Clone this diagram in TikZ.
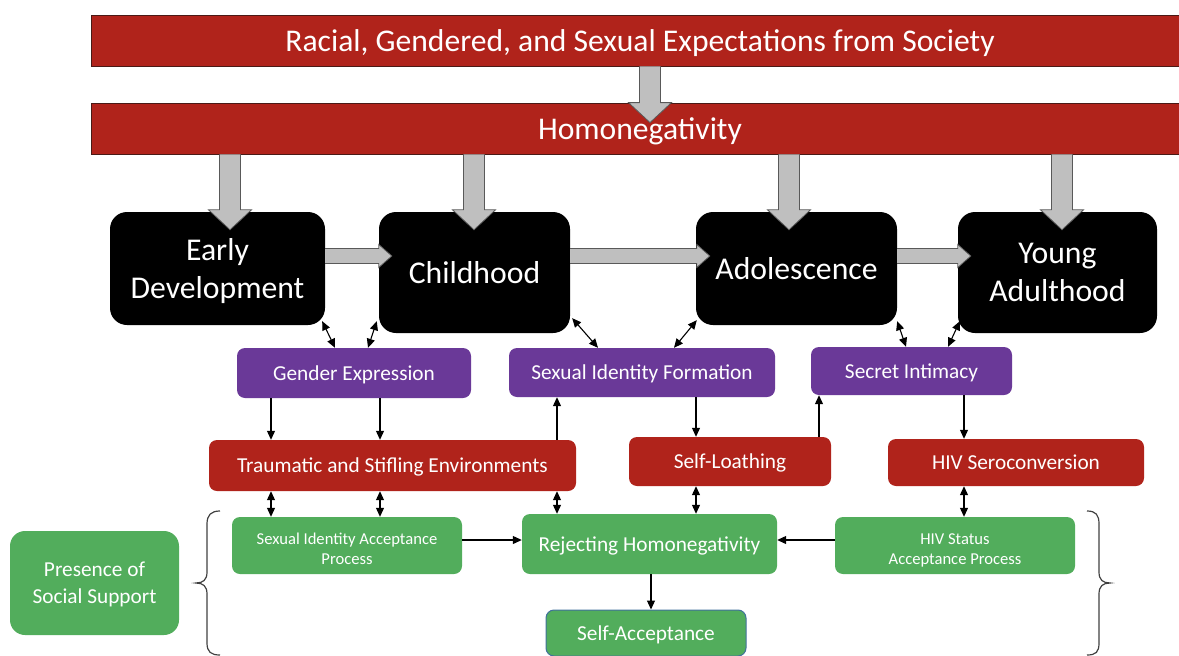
\documentclass[tikz,border=0pt]{standalone}
\usepackage{fontspec}
\setmainfont{Carlito}
\usetikzlibrary{arrows.meta,calc}
\definecolor{barred}{HTML}{B0231B}
\definecolor{barline}{HTML}{4A1A16}
\definecolor{purp}{HTML}{6A3998}
\definecolor{grn}{HTML}{52AD5C}
\definecolor{arrowfill}{HTML}{BFBFBF}
\definecolor{arrowline}{HTML}{595959}
\definecolor{saborder}{HTML}{41719C}
\definecolor{bracecol}{HTML}{404040}
\newcommand\blockdown[2]{%
  \path[blockarrow] let \p1=(#1), \p2=(#2) in
    (\x1-10.5pt,\y1) -- (\x1-10.5pt,\y2+20pt) -- (\x1-21.5pt,\y2+20pt) -- (\x1,\y2)
    -- (\x1+21.5pt,\y2+20pt) -- (\x1+10.5pt,\y2+20pt) -- (\x1+10.5pt,\y1);}
\newcommand\blockright[2]{%
  \path[blockarrow] let \p1=(#1), \p2=(#2) in
    (\x1,\y1+7.5pt) -- (\x2-13pt,\y1+7.5pt) -- (\x2-13pt,\y1+11.5pt) -- (\x2,\y1)
    -- (\x2-13pt,\y1-11.5pt) -- (\x2-13pt,\y1-7.5pt) -- (\x1,\y1-7.5pt);}
\newcommand\tallstrut{\rule{0pt}{18pt}}
\begin{document}
\begin{tikzpicture}[x=1pt,y=-1pt,
  every node/.style={inner sep=0pt, text=white, align=center, text depth=0pt},
  bar/.style={draw=barline, line width=0.8pt, fill=barred, minimum height=51pt,
    minimum width=1098pt, font=\fontsize{31.6}{37}\selectfont},
  stage/.style={fill=black, rounded corners=17pt, font=\fontsize{31.7}{38}\selectfont},
  pbox/.style={fill=purp, rounded corners=8pt, font=\fontsize{21.3}{25}\selectfont},
  rbox/.style={fill=barred, rounded corners=8pt, font=\fontsize{21.3}{25}\selectfont},
  gbox/.style={fill=grn, rounded corners=8pt, font=\fontsize{21.3}{25}\selectfont},
  gsmall/.style={gbox, font=\fontsize{16.6}{20}\selectfont},
  blockarrow/.style={fill=arrowfill, draw=arrowline, line width=0.8pt},
  arr/.style={-{Triangle[length=9pt,width=8pt]}, line width=1.1pt},
  darr/.style={{Triangle[length=9pt,width=8pt]}-{Triangle[length=9pt,width=8pt]}, line width=1.1pt},
  brace/.style={draw=bracecol, line width=1.2pt}
]
\useasboundingbox (0,0) rectangle (1179,656);
\clip (0,0) rectangle (1179,656);

% bars
\node[bar] (soc) at (640,40.5) {Racial, Gendered, and Sexual Expectations from Society};
\node[bar] (homo) at (640,128.5) {Homonegativity};

% stages
\node[stage, minimum width=215pt, minimum height=113pt] (ed) at (217.5,268.5) {Early\\Development};
\node[stage, minimum width=191pt, minimum height=121pt] (ch) at (474.5,272.5) {Childhood};
\node[stage, minimum width=201pt, minimum height=113pt] (ad) at (796.5,268.5) {Adolescence};
\node[stage, minimum width=199pt, minimum height=121pt] (ya) at (1057.5,272.5) {Young\\Adulthood};

% purple
\node[pbox, minimum width=234pt, minimum height=50pt] (ge) at (354,373) {Gender Expression};
\node[pbox, minimum width=266pt, minimum height=49pt] (sif) at (642,372.5) {Sexual Identity Formation};
\node[pbox, minimum width=201pt, minimum height=48pt] (si) at (911.5,371) {Secret Intimacy};

% red
\node[rbox, minimum width=367pt, minimum height=51pt] (tse) at (392.5,465.5) {Traumatic and Stifling Environments};
\node[rbox, minimum width=202pt, minimum height=49pt] (sl) at (730,461.5) {Self-Loathing};
\node[rbox, minimum width=256pt, minimum height=47pt] (hivs) at (1016,462.5) {HIV Seroconversion};

% green
\node[gsmall, minimum width=230pt, minimum height=57pt] (siap) at (347,545.5) {\tallstrut Sexual Identity Acceptance\\Process};
\node[gbox, minimum width=255pt, minimum height=60pt] (rh) at (649.5,544) {Rejecting Homonegativity};
\node[gsmall, minimum width=240pt, minimum height=57pt] (hsap) at (955,545.5) {\tallstrut HIV Status\\Acceptance Process};
\node[gbox, draw=saborder, line width=1pt, minimum width=200pt, minimum height=46pt] (sa) at (646,633) {Self-Acceptance};
\node[gbox, rounded corners=15pt, minimum width=169pt, minimum height=104pt, font=\fontsize{21.3}{27}\selectfont] (pss) at (94.5,583) {Presence of\\Social Support};

% block arrows
\blockdown{650,0 |- soc.south}{$(650,0 |- homo.north)+(0,20)$}
\blockdown{230,0 |- homo.south}{$(230,0 |- ed.north)+(0,18)$}
\blockdown{474,0 |- homo.south}{$(474,0 |- ch.north)+(0,18)$}
\blockdown{789,0 |- homo.south}{$(789,0 |- ad.north)+(0,18)$}
\blockdown{1062,0 |- homo.south}{$(1062,0 |- ya.north)+(0,18)$}
\blockright{ed.east |- 0,256}{$(ch.west |- 0,256)+(13,0)$}
\blockright{ch.east |- 0,256}{$(ad.west |- 0,256)+(14,0)$}
\blockright{ad.east |- 0,256}{$(ya.west |- 0,256)+(13,0)$}

% stage <-> purple
\draw[darr] ($(ed.south east)+(-3,-4)$) -- ($(ge.north)+(-19,0)$);
\draw[darr] ($(ch.south west)+(-2,-12)$) -- ($(ge.north)+(14,0)$);
\draw[darr] ($(ch.south east)+(2,-15)$) -- ($(sif.north)+(-44,0)$);
\draw[darr] ($(ad.south west)+(1,-5)$) -- ($(sif.north)+(32,0)$);
\draw[darr] ($(ad.south east)+(0,-4)$) -- ($(si.north)+(-5.5,0)$);
\draw[darr] ($(ya.south west)+(2,-12)$) -- ($(si.north)+(36.5,0)$);

% purple <-> red
\draw[arr] (271,0 |- ge.south) -- (271,0 |- tse.north);
\draw[arr] (380,0 |- ge.south) -- (380,0 |- tse.north);
\draw[arr] (557,0 |- tse.north) -- (557,0 |- sif.south);
\draw[arr] (696,0 |- sif.south) -- (696,0 |- sl.north);
\draw[arr] (819,0 |- sl.north) -- (819,0 |- si.south);
\draw[arr] (964,0 |- si.south) -- (964,0 |- hivs.north);

% red <-> green
\draw[darr] (271,0 |- tse.south) -- (271,0 |- siap.north);
\draw[darr] (380,0 |- tse.south) -- (380,0 |- siap.north);
\draw[darr] (557,0 |- tse.south) -- (557,0 |- rh.north);
\draw[darr] (696,0 |- sl.south) -- (696,0 |- rh.north);
\draw[darr] (964,0 |- hivs.south) -- (964,0 |- hsap.north);

% green row
\draw[arr] (siap.east |- 0,540) -- (rh.west |- 0,540);
\draw[arr] (hsap.west |- 0,540) -- (rh.east |- 0,540);
\draw[arr] (651,0 |- rh.south) -- (651,0 |- sa.north);

% braces
\draw[brace] (220,511) .. controls (211,511) and (207,515) .. (207,524) -- (207,572)
  .. controls (207,580) and (203,583) .. (196,583) .. controls (203,583) and (207,586) .. (207,594)
  -- (207,643) .. controls (207,652) and (211,655) .. (220,655);
\draw[brace] (1087,511) .. controls (1096,511) and (1099,515) .. (1099,524) -- (1099,572)
  .. controls (1099,580) and (1103,583) .. (1110,583) .. controls (1103,583) and (1099,586) .. (1099,594)
  -- (1099,643) .. controls (1099,652) and (1096,655) .. (1087,655);
\end{tikzpicture}
\end{document}
